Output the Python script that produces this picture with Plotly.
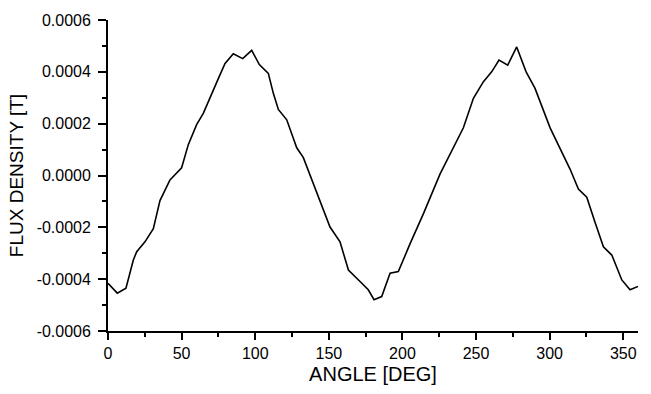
import plotly.graph_objects as go

angle_deg = [0, 6.3, 12.2, 17.2, 19.5, 25.1, 30.8, 35.3, 42.1, 50, 54.6, 60.2, 64.8, 70.4,
             75, 79.5, 85.1, 91.5, 97.6, 102.8, 108.9, 112.3, 115.7, 121.4, 128.2, 132.7,
             139.5, 145, 150.8, 157.6, 163.3, 171.2, 176.8, 180.7, 185.9, 191.6, 197.2,
             205.2, 214.2, 225.5, 234.6, 241.4, 248.2, 255, 260.6, 265.6, 271.5, 277.6,
             284, 290, 300.3, 307, 313.9, 319.5, 325.2, 330.8, 336.5, 342.2, 349, 354.6, 360]
flux_t = [-0.000416, -0.000454, -0.000435, -0.000326, -0.000294, -0.000256, -0.000205,
          -0.000097, -0.000017, 0.00003, 0.00012, 0.000196, 0.000241, 0.000317,
          0.000375, 0.000432, 0.00047, 0.000451, 0.000483, 0.000428, 0.000394, 0.000317,
          0.000255, 0.000215, 0.000107, 0.000069, -0.000033, -0.00012, -0.000199,
          -0.000256, -0.000365, -0.000409, -0.000441, -0.000479, -0.000467, -0.000377,
          -0.000371, -0.000263, -0.000148, 0.000005, 0.000107, 0.000184, 0.000298,
          0.000362, 0.0004, 0.000445, 0.000426, 0.000496, 0.0004, 0.000337, 0.000184,
          0.000107, 0.000024, -0.000052, -0.000084, -0.00018, -0.000275, -0.000307,
          -0.000403, -0.000441, -0.000428]

x_ticks = [0, 50, 100, 150, 200, 250, 300, 350]
y_ticks = [-0.0006, -0.0004, -0.0002, 0.0, 0.0002, 0.0004, 0.0006]
y_tick_labels = ["-0.0006", "-0.0004", "-0.0002", "0.0000", "0.0002", "0.0004", "0.0006"]

font = "Liberation Sans, Arial, sans-serif"

fig = go.Figure()
fig.add_trace(go.Scatter(x=angle_deg, y=flux_t, mode="lines",
                         line=dict(color="black", width=1.6), showlegend=False))

fig.update_layout(
    width=651, height=394,
    margin=dict(l=108, r=13, t=20, b=60),
    paper_bgcolor="white", plot_bgcolor="white",
    font=dict(family=font, color="black", size=16),
)
fig.update_xaxes(
    range=[0, 360], tickvals=x_ticks, ticks="outside", ticklen=7, tickwidth=1.5,
    tickcolor="black", showline=True, linecolor="black", linewidth=1.8,
    showgrid=False, zeroline=False,
    minor=dict(ticks="outside", ticklen=4, tickwidth=1.5, tickcolor="black", dtick=25, tick0=0),
    title=dict(text="ANGLE [DEG]", font=dict(size=20, family=font), standoff=6),
    tickfont=dict(size=16, family=font),
)
fig.update_yaxes(
    range=[-0.0006, 0.0006], tickvals=y_ticks, ticktext=y_tick_labels,
    ticks="outside", ticklen=8, tickwidth=1.5, tickcolor="black",
    showline=True, linecolor="black", linewidth=1.8,
    showgrid=False, zeroline=False, ticklabelstandoff=4,
    minor=dict(ticks="outside", ticklen=4, tickwidth=1.5, tickcolor="black",
               tickvals=[-0.0005, -0.0003, -0.0001, 0.0001, 0.0003, 0.0005]),
    title=dict(text="FLUX DENSITY [T]", font=dict(size=19, family=font), standoff=8),
    tickfont=dict(size=16, family=font),
)

fig.write_html("out.html")
